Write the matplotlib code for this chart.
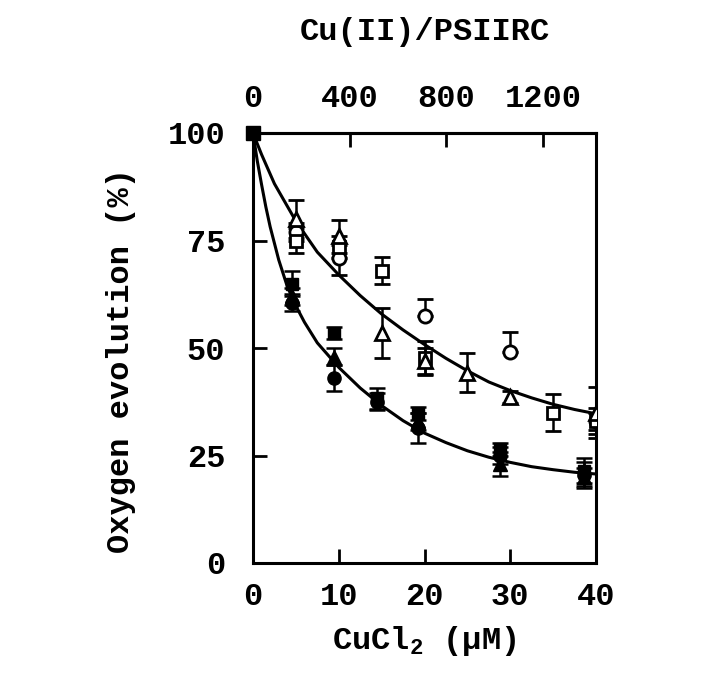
import matplotlib
matplotlib.use("Agg")
import matplotlib.pyplot as plt
import numpy as np

# ---- data ----
ratio_per_uM = 35.5  # Cu(II)/PSIIRC per uM CuCl2 (top axis)

# open symbols (upper curve)
oc_x = [5, 10, 20, 30, 40]
oc_y = [77, 71, 57.5, 49, 33]
oc_up = [2, 3, 3.8, 4.7, 2]
oc_lo = [2, 4, 0, 0, 2]

os_x = [5, 10, 15, 20, 35, 40]
os_y = [75, 73.5, 68, 47.7, 35, 33]
os_err = [3, 2.5, 3.1, 4, 4.3, 3]

ot_x = [5, 10, 15, 20, 25, 30, 40]
ot_y = [80, 76, 53.5, 47, 44.3, 38.6, 35]
ot_err = [4.4, 3.8, 5.8, 3, 4.5, 1.5, 6]

# filled symbols (lower curve)
fc_x = [4.6, 9.4, 14.5, 19.3, 28.8, 38.6]
fc_y = [60.5, 43, 37.5, 31.5, 25, 20.5]
fc_err = [2, 3, 2, 3.5, 2, 3]

fs_x = [4.6, 9.4, 14.5, 19.3, 28.8, 38.6]
fs_y = [65, 53.5, 38.3, 34.8, 26.5, 21.5]
fs_err = [3, 1.5, 2.4, 1.5, 1.5, 3]

ft_x = [4.6, 9.4, 19.3, 28.8, 38.6]
ft_y = [62, 48, 33, 23, 20]
ft_err = [2, 2, 2, 2.8, 2]

# fitted curves
up_curve_x = [0, 1, 2.5, 5, 7.5, 10, 12.5, 15, 17.5, 20, 22.5, 25, 27.5, 30, 32.5, 35, 37.5, 40]
up_curve_y = [100, 95.0, 88.2, 79.5, 72.3, 67.0, 62.2, 57.9, 54.2, 50.8, 47.6, 44.7, 42.1, 40.1, 38.4, 36.9, 35.7, 34.7]

lo_curve_x = [0, 0.5, 1, 1.5, 2, 3, 4, 5, 6, 7.5, 10, 12.5, 15, 17.5, 20, 22.5, 25, 27.5, 30, 32.5, 35, 37.5, 40]
lo_curve_y = [100, 93.5, 88, 82.8, 78.2, 70.5, 64.3, 59.8, 56, 51.2, 45.5, 40.7, 36.6, 33.1, 30.2, 28.0, 26.1, 24.6, 23.4, 22.4, 21.7, 21.1, 20.7]

x_ticks = [0, 10, 20, 30, 40]
y_ticks = [0, 25, 50, 75, 100]
top_ticks = [0, 400, 800, 1200]

# ---- figure ----
FONT = "Liberation Mono"
plt.rcParams["font.family"] = [FONT, "DejaVu Sans"]
plt.rcParams["font.weight"] = "bold"
plt.rcParams["mathtext.fontset"] = "custom"
plt.rcParams["mathtext.bf"] = "Liberation Mono:bold"
plt.rcParams["mathtext.rm"] = "Liberation Mono:bold"

FS = 23

fig = plt.figure(figsize=(7.03, 6.79), dpi=100)
ax = fig.add_axes([253/703, 1-563/679, (596-253)/703, (563-133)/679])

lw = 2.2
ax.plot(up_curve_x, up_curve_y, color="black", lw=lw, zorder=2)
ax.plot(lo_curve_x, lo_curve_y, color="black", lw=lw, zorder=2)

ms = 9.5
eb = dict(ecolor="black", elinewidth=1.8, capsize=6, capthick=1.8, linestyle="none", zorder=3)

ax.errorbar(oc_x, oc_y, yerr=[oc_lo, oc_up], marker="o", ms=ms, mfc="white", mec="black", mew=2, **eb)
ax.errorbar(os_x, os_y, yerr=os_err, marker="s", ms=ms-1, mfc="white", mec="black", mew=2, **eb)
ax.errorbar(ot_x, ot_y, yerr=ot_err, marker="^", ms=ms+0.5, mfc="white", mec="black", mew=2, **eb)
ax.errorbar(fc_x, fc_y, yerr=fc_err, marker="o", ms=ms, mfc="black", mec="black", **eb)
ax.errorbar(fs_x, fs_y, yerr=fs_err, marker="s", ms=ms-1, mfc="black", mec="black", **eb)
ax.errorbar(ft_x, ft_y, yerr=ft_err, marker="^", ms=ms+0.5, mfc="black", mec="black", **eb)

# common starting point
ax.plot([up_curve_x[0]], [up_curve_y[0]], marker="s", ms=10, color="black", clip_on=False, zorder=5)

ax.set_xlim(0, 40)
ax.set_ylim(0, 100)
for s in ax.spines.values():
    s.set_linewidth(2.2)

ax.set_xticks(x_ticks)
ax.set_xticklabels([str(v) for v in x_ticks])
ax.set_yticks(y_ticks)
ax.set_yticklabels([str(v) for v in y_ticks])
ax.tick_params(axis="both", direction="in", length=10, width=2, labelsize=FS, right=False, top=False)
ax.tick_params(axis="x", pad=14)
ax.tick_params(axis="y", pad=20)
for lab in ax.get_xticklabels() + ax.get_yticklabels():
    lab.set_fontweight("bold")

sec = ax.secondary_xaxis("top", functions=(lambda x: x * ratio_per_uM, lambda r: r / ratio_per_uM))
sec.set_xticks(top_ticks)
sec.set_xticklabels([str(v) for v in top_ticks])
sec.tick_params(direction="in", length=10, width=2, labelsize=FS, pad=14)
sec.spines["top"].set_linewidth(2.2)
for lab in sec.get_xticklabels():
    lab.set_fontweight("bold")

ax.set_xlabel("CuCl$_{\\mathbf{2}}$ (\u03bcM)", fontsize=FS, fontweight="bold", labelpad=8)
ax.set_ylabel("Oxygen evolution (%)", fontsize=FS, fontweight="bold", labelpad=24)
ax.yaxis.set_label_coords(-0.34, 0.47)
sec.set_xlabel("Cu(II)/PSIIRC", fontsize=FS, fontweight="bold", labelpad=31)

fig.savefig("out.png", dpi=100, facecolor="white")
